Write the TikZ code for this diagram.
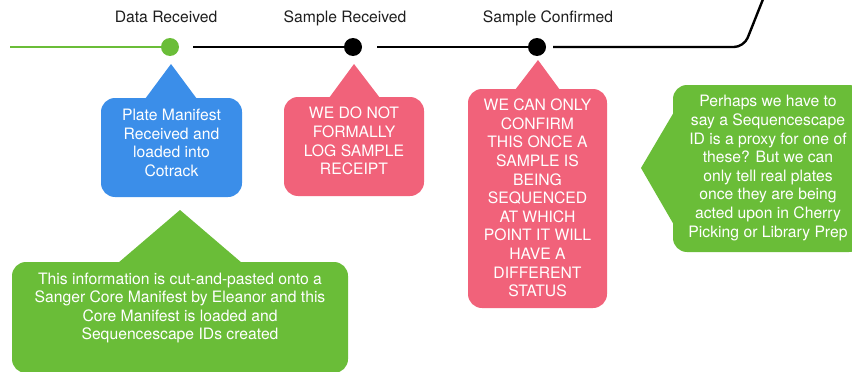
\documentclass[tikz,border=0pt]{standalone}
\usepackage{fontspec}
\setmainfont{TeX Gyre Heros}
\definecolor{cgreen}{RGB}{106,189,56}
\definecolor{cblue}{RGB}{59,142,233}
\definecolor{cred}{RGB}{241,98,122}
\definecolor{clabel}{RGB}{30,30,30}
\tikzset{
  dotnode/.style={circle, inner sep=0pt, minimum size=18pt},
  tline/.style={line width=2.4pt},
  glabel/.style={anchor=base, text=clabel, font=\fontsize{15.7}{18.6}\selectfont},
  cbox/.style={rectangle, rounded corners=14pt, inner sep=0pt},
  ctext/.style={align=center, text=white, inner sep=0pt, font=\fontsize{15.7}{18.6}\selectfont},
}
\begin{document}
\begin{tikzpicture}[x=1pt,y=1pt]
\useasboundingbox (0,0) rectangle (852,-372);
\clip (0,0) rectangle (852,-372);
% timeline
\node[dotnode, fill=cgreen] (d1) at (170,-47) {};
\node[dotnode, fill=black] (d2) at (353,-47) {};
\node[dotnode, fill=black] (d3) at (537,-47) {};
\coordinate (s0) at (10,-47);
\coordinate (s1) at (193,-47);
\coordinate (s2) at (377,-47);
\coordinate (s3) at (553,-47);
\coordinate (bend) at (744,-47);
\coordinate (top) at (763.5,2);
\draw[tline, cgreen] (s0) -- (d1.center);
\draw[tline] (s1) -- (d2.center);
\draw[tline] (s2) -- (d3.center);
\draw[tline, rounded corners=10pt] (s3) -- (bend) -- (top);
% labels
\node[glabel] (l1) at (166,-23) {Data Received};
\node[glabel] (l2) at (345,-23) {Sample Received};
\node[glabel] (l3) at (548,-23) {Sample Confirmed};
% blue callout
\fill[cblue] (145,-99) -- (171,-64) -- (197,-99) -- cycle;
\node[cbox, fill=cblue, minimum width=141pt, minimum height=99pt] (plateBox) at (171.5,-147.5) {};
\node[ctext] (plateTxt) at (171.5,-143) {Plate Manifest\\Received and\\loaded into\\Cotrack};
% red callout 1
\fill[cred] (329,-98) -- (354,-64) -- (380,-98) -- cycle;
\node[cbox, fill=cred, minimum width=140pt, minimum height=99pt] (logBox) at (354,-146.5) {};
\node[ctext] (logTxt) at (354,-141) {WE DO NOT\\FORMALLY\\LOG SAMPLE\\RECEIPT};
% red callout 2
\fill[cred] (515,-90) -- (538,-60) -- (560,-90) -- cycle;
\node[cbox, fill=cred, minimum width=139pt, minimum height=219pt] (confBox) at (537.5,-198.5) {};
\node[ctext] (confTxt) at (537.5,-198) {WE CAN ONLY\\CONFIRM\\THIS ONCE A\\SAMPLE IS\\BEING\\SEQUENCED\\AT WHICH\\POINT IT WILL\\HAVE A\\DIFFERENT\\STATUS};
% green bottom callout
\fill[cgreen] (118,-263) -- (180,-210) -- (242,-263) -- cycle;
\node[cbox, fill=cgreen, minimum width=336pt, minimum height=111pt] (manBox) at (180,-317.5) {};
\node[ctext] (manTxt) at (180,-308) {This information is cut-and-pasted onto a\\Sanger Core Manifest by Eleanor and this\\Core Manifest is loaded and\\Sequencescape IDs created};
% green right callout
\fill[cgreen] (641,-168) -- (674,-112) -- (674,-225) -- cycle;
\node[cbox, fill=cgreen, minimum width=190pt, minimum height=167pt] (proxyBox) at (768,-168.5) {};
\node[ctext] (proxyTxt) at (768,-168) {Perhaps we have to\\say a Sequencescape\\ID is a proxy for one of\\these? But we can\\only tell real plates\\once they are being\\acted upon in Cherry\\Picking or Library Prep};
\end{tikzpicture}
\end{document}
